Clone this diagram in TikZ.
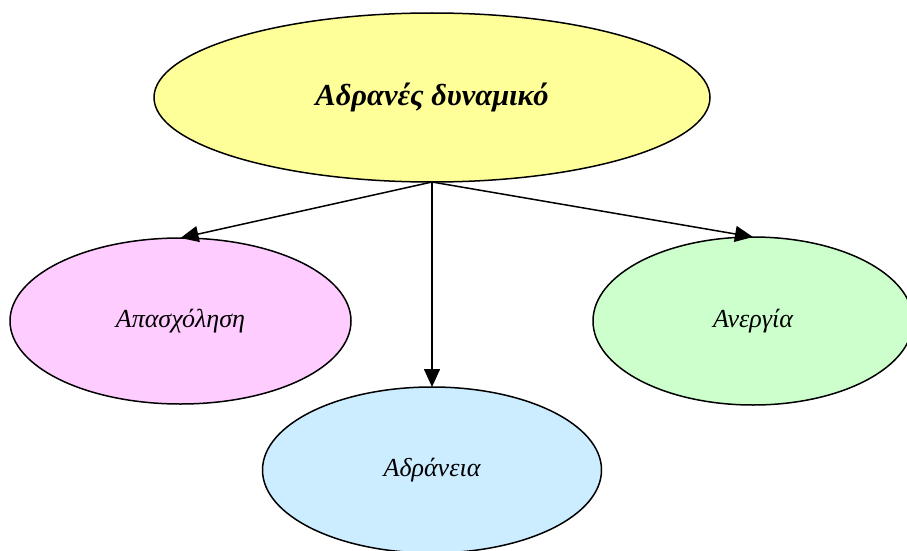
\documentclass[tikz,border=0pt]{standalone}
\usepackage{fontspec}
\setmainfont{Liberation Serif}
\usepackage{xcolor}
\definecolor{bubyellow}{HTML}{FFFF99}
\definecolor{bubpink}{HTML}{FFCCFF}
\definecolor{bubblue}{HTML}{CCECFF}
\definecolor{bubgreen}{HTML}{CCFFCC}
\usepackage{tikz}
\usetikzlibrary{arrows.meta,shapes.geometric}
\tikzset{
  >={Triangle[length=18pt,width=16pt]},
  every picture/.style={line cap=round, line join=round},
  bubble/.style={ellipse, draw=black, line width=1.5pt, inner sep=0pt, outer sep=0pt,
    font=\itshape\fontsize{26}{30}\selectfont},
  link/.style={black, line width=1.5pt, ->},
}
\begin{document}
\begin{tikzpicture}[x=1pt, y=-1pt]
\useasboundingbox (0,0) rectangle (907,551);
\clip (0,0) rectangle (907,551);
% the four bubbles
\node[bubble, fill=bubyellow, minimum width=556pt, minimum height=169pt,
  font=\bfseries\itshape\fontsize{30.5}{34}\selectfont] (dyn) at (432,97.5) {Αδρανές δυναμικό};
\node[bubble, fill=bubpink, minimum width=341pt, minimum height=166pt] (apa) at (180.5,321) {Απασχόληση};
\node[bubble, fill=bubblue, minimum width=339pt, minimum height=166pt] (adr) at (432,470) {Αδράνεια};
\node[bubble, fill=bubgreen, minimum width=320pt, minimum height=168pt] (ane) at (753,321) {Ανεργία};
% links
\draw[link] (dyn.south) -- (apa.north);
\draw[link] (dyn.south) -- (adr.north);
\draw[link] (dyn.south) -- (ane.north);
\end{tikzpicture}
\end{document}
